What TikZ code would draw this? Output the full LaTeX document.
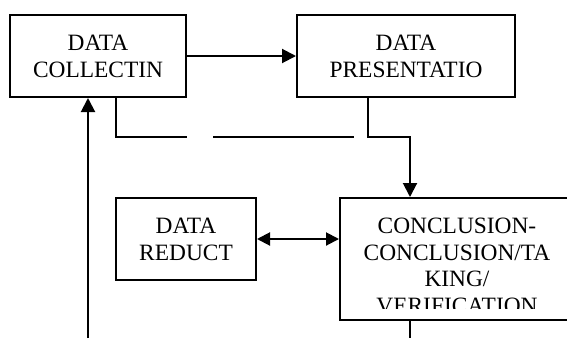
\documentclass[tikz,border=0pt]{standalone}
\usepackage{fontspec}
\setmainfont{Liberation Serif}
\usetikzlibrary{arrows.meta}
\begin{document}
\begin{tikzpicture}[x=1pt,y=-1pt,
  boxnode/.style={draw, line width=2pt, rectangle, inner sep=0pt, align=center,
    font=\fontsize{23.4pt}{26.8pt}\selectfont},
  txt/.style={inner sep=0pt, align=center, font=\fontsize{23.4pt}{26.8pt}\selectfont},
  conn/.style={line width=2pt},
  arr/.style={line width=2pt, -{Triangle[length=14pt,width=14pt]}},
  darr/.style={line width=2pt, {Triangle[length=13pt,width=13pt]}-{Triangle[length=13pt,width=13pt]}}
]
\useasboundingbox (0,0) rectangle (567,338);
\fill[white] (0,0) rectangle (567,338);
\clip (0,0) rectangle (567,338);

\node[boxnode, minimum width=176pt, minimum height=82pt] (collect) at (98,56) {DATA\\COLLECTIN};
\node[boxnode, minimum width=218pt, minimum height=82pt] (present) at (406,56) {DATA\\PRESENTATIO};
\node[boxnode, minimum width=140pt, minimum height=82pt] (reduct) at (186,239) {DATA\\REDUCT};
\node[boxnode, minimum width=236pt, minimum height=122pt] (concl) at (458,259) {};
\begin{scope}
  \clip (341,199) rectangle (567,308);
  \node[txt] (concltext) at (457,266) {CONCLUSION-\\CONCLUSION/TA\\KING/\\VERIFICATION};
\end{scope}

\coordinate (c1) at (116,137);
\coordinate (g1) at (187,137);
\coordinate (g2) at (213,137);
\coordinate (g3) at (354,137);
\coordinate (p1) at (368,137);
\coordinate (p2) at (410,137);
\coordinate (b1) at (88,338);
\coordinate (b2) at (410,338);

\draw[arr] (collect.east) -- (present.west);
\draw[conn] (collect.south -| c1) -- (c1) -- (g1);
\draw[conn] (g2) -- (g3);
\draw[arr] (present.south -| p1) -- (p1) -- (p2) -- (concl.north -| p2);
\draw[darr] (reduct.east) -- (reduct.east -| concl.west);
\draw[conn] (concl.south -| b2) -- (b2);
\draw[arr] (b1) -- (b1 |- collect.south);
\end{tikzpicture}
\end{document}
